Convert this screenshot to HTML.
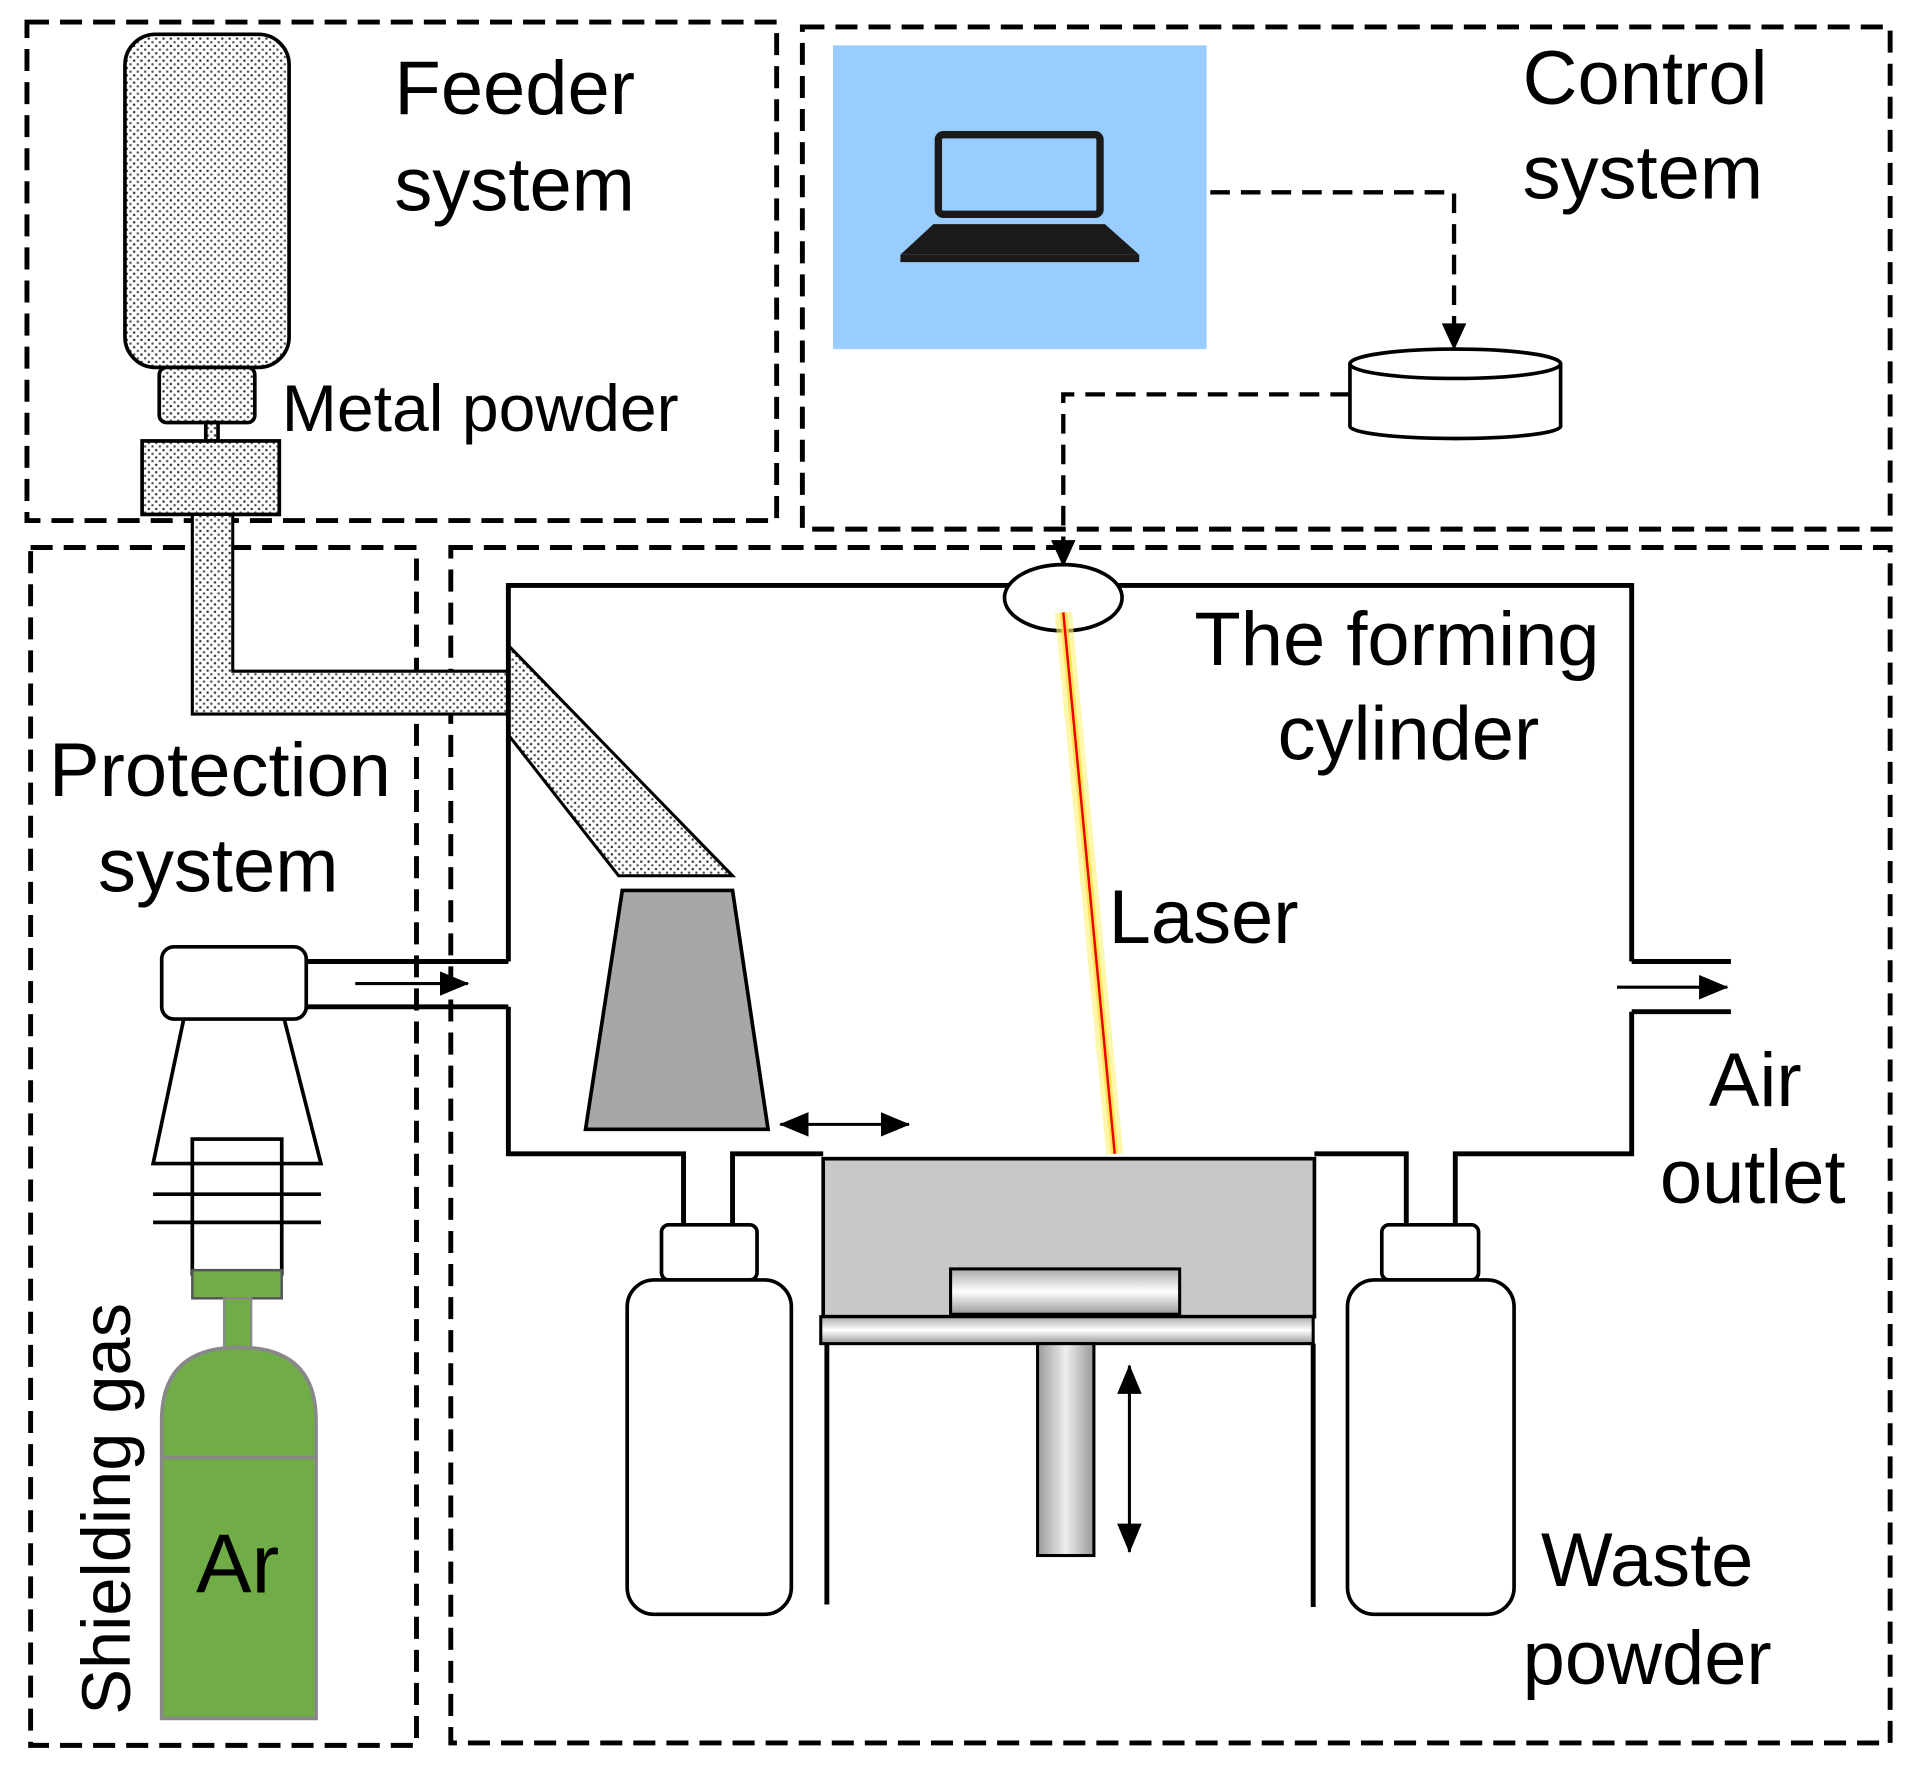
<!DOCTYPE html>
<html><head><style>html,body{margin:0;padding:0;background:#fff}svg{display:block}text{font-family:"Liberation Sans",sans-serif;fill:#000}</style></head>
<body>
<svg width="1922" height="1776" viewBox="0 0 1569 1450" preserveAspectRatio="none" xmlns="http://www.w3.org/2000/svg">
<defs>
<pattern id="dots" width="6" height="6" patternUnits="userSpaceOnUse"><rect width="6" height="6" fill="#fff"/><circle cx="1.5" cy="1.5" r="1" fill="#333"/><circle cx="4.5" cy="4.5" r="1" fill="#555"/></pattern>
<linearGradient id="gh" x1="0" y1="0" x2="0" y2="1"><stop offset="0" stop-color="#aaa"/><stop offset="0.5" stop-color="#fff"/><stop offset="1" stop-color="#999"/></linearGradient>
<linearGradient id="gv" x1="0" y1="0" x2="1" y2="0"><stop offset="0" stop-color="#999"/><stop offset="0.5" stop-color="#eee"/><stop offset="1" stop-color="#999"/></linearGradient>
<marker id="ar2" markerWidth="24" markerHeight="20" refX="23" refY="10" orient="auto-start-reverse" markerUnits="userSpaceOnUse" viewBox="0 0 24 20"><path d="M0,0 L24,10 L0,20 z" fill="#000"/></marker>
</defs>
<g fill="none" stroke="#000" stroke-width="4" stroke-dasharray="18 9">
<rect x="22" y="18" width="612" height="407"/>
<rect x="655" y="22" width="888" height="410"/>
<rect x="25" y="447" width="315" height="978"/>
<rect x="368" y="447" width="1175" height="976"/>
</g>
<g stroke="#000" stroke-width="3" fill="url(#dots)">
<rect x="102" y="28" width="134" height="272" rx="25"/>
<rect x="130" y="300" width="78" height="45" rx="6"/>
<rect x="168" y="345" width="10" height="15"/>
<rect x="116" y="360" width="112" height="60"/>
<path d="M157,420 L190,420 L190,548 L415,548 L415,583 L157,583 Z" stroke-width="2.5"/>
<path d="M415,527 L415,600 L505,715 L598,715 Z" stroke-width="2.5"/>
</g>
<path d="M508,727 L598,727 L627,922 L478,922 Z" fill="#a8a6a6" stroke="#000" stroke-width="3"/>
<g fill="none" stroke="#000" stroke-width="4">
<path d="M415,785 L415,478 L1332,478 L1332,785"/>
<path d="M415,822 L415,942 L558,942 L558,1000"/>
<path d="M598,1000 L598,942 L672,942"/>
<path d="M1073,942 L1148,942 L1148,1000"/>
<path d="M1188,1000 L1188,942 L1332,942 L1332,826"/>
<path d="M250,785 L415,785 M250,822 L415,822"/>
<path d="M1332,785 L1413,785 M1332,826 L1413,826"/>
<path d="M675,1097 L675,1310 M1072,1097 L1072,1312"/>
</g>
<line x1="290" y1="803" x2="382" y2="803" stroke="#000" stroke-width="2.5" marker-end="url(#ar2)"/>
<line x1="1320" y1="806" x2="1410" y2="806" stroke="#000" stroke-width="2.5" marker-end="url(#ar2)"/>
<line x1="637" y1="918" x2="742" y2="918" stroke="#000" stroke-width="2.5" marker-start="url(#ar2)" marker-end="url(#ar2)"/>
<line x1="922" y1="1115" x2="922" y2="1267" stroke="#000" stroke-width="2.5" marker-start="url(#ar2)" marker-end="url(#ar2)"/>
<ellipse cx="868" cy="488" rx="48" ry="27" fill="#fff" stroke="#000" stroke-width="3"/>
<line x1="868" y1="500" x2="910" y2="942" stroke="#fff27a" stroke-width="14" opacity="0.6"/>
<line x1="868" y1="500" x2="910" y2="942" stroke="#ffe040" stroke-width="6" opacity="0.8"/>
<line x1="868" y1="500" x2="910" y2="942" stroke="#e00" stroke-width="2"/>
<rect x="672" y="946" width="401" height="129" fill="#c8c8c8" stroke="#000" stroke-width="3"/>
<rect x="776" y="1036" width="187" height="37" fill="url(#gh)" stroke="#000" stroke-width="2.5"/>
<rect x="670" y="1075" width="402" height="22" fill="url(#gh)" stroke="#000" stroke-width="2.5"/>
<rect x="847" y="1097" width="46" height="173" fill="url(#gv)" stroke="#000" stroke-width="2.5"/>
<g fill="#fff" stroke="#000" stroke-width="3">
<rect x="540" y="1000" width="78" height="45" rx="6"/>
<rect x="512" y="1045" width="134" height="273" rx="22"/>
<rect x="1128" y="1000" width="79" height="45" rx="6"/>
<rect x="1100" y="1045" width="136" height="273" rx="22"/>
</g>
<rect x="680" y="37" width="305" height="248" fill="#99ccff"/>
<rect x="766" y="110" width="132" height="65" rx="4" fill="#99ccff" stroke="#1a1a1a" stroke-width="6"/>
<path d="M762,183 L902,183 L930,208 L735,208 Z" fill="#1a1a1a"/>
<rect x="735" y="208" width="195" height="6" fill="#1a1a1a"/>
<g fill="none" stroke="#000" stroke-width="3.5" stroke-dasharray="16 9">
<path d="M988,157 L1187,157 L1187,270"/>
<path d="M1102,322 L868,322 L868,445"/>
</g>
<path d="M1177,264 L1187,286 L1197,264 Z M858,441 L868,463 L878,441 Z" fill="#000"/>
<path d="M1102,297 L1102,348 A86,10 0 0 0 1274,348 L1274,297" fill="#fff" stroke="#000" stroke-width="3"/>
<ellipse cx="1188" cy="297" rx="86" ry="12" fill="#fff" stroke="#000" stroke-width="3"/>
<g fill="none" stroke="#000" stroke-width="3">
<rect x="132" y="773" width="118" height="59" rx="10" fill="#fff"/>
<path d="M150,832 L125,950 L262,950 L232,832"/>
<path d="M125,975 L262,975 M125,998 L262,998"/>
<rect x="157" y="930" width="73" height="110"/>
</g>
<rect x="157" y="1037" width="73" height="23" fill="#70ad47" stroke="#555" stroke-width="2"/>
<rect x="183" y="1060" width="22" height="40" fill="#70ad47" stroke="#888" stroke-width="2"/>
<path d="M132,1403 L132,1160 Q132,1100 195,1100 Q258,1100 258,1160 L258,1403 Z" fill="#70ad47" stroke="#888" stroke-width="3"/>
<line x1="132" y1="1190" x2="258" y2="1190" stroke="#888" stroke-width="3"/>
<g font-size="62">
<text x="322" y="93">Feeder</text><text x="322" y="172">system</text>
<text x="1243" y="85">Control</text><text x="1243" y="162">system</text>
<text x="975" y="543">The forming</text><text x="1043" y="620">cylinder</text>
<text x="40" y="650">Protection</text><text x="80" y="728">system</text>
<text x="905" y="770">Laser</text>
<text x="1395" y="903">Air</text><text x="1355" y="982">outlet</text>
<text x="1258" y="1295">Waste</text><text x="1243" y="1375">powder</text>
<text x="160" y="1300" font-size="68">Ar</text>
</g>
<text x="230" y="352" font-size="54">Metal powder</text>
<text transform="translate(106,1400) rotate(-90)" font-size="56">Shielding gas</text>
</svg>
</body></html>
